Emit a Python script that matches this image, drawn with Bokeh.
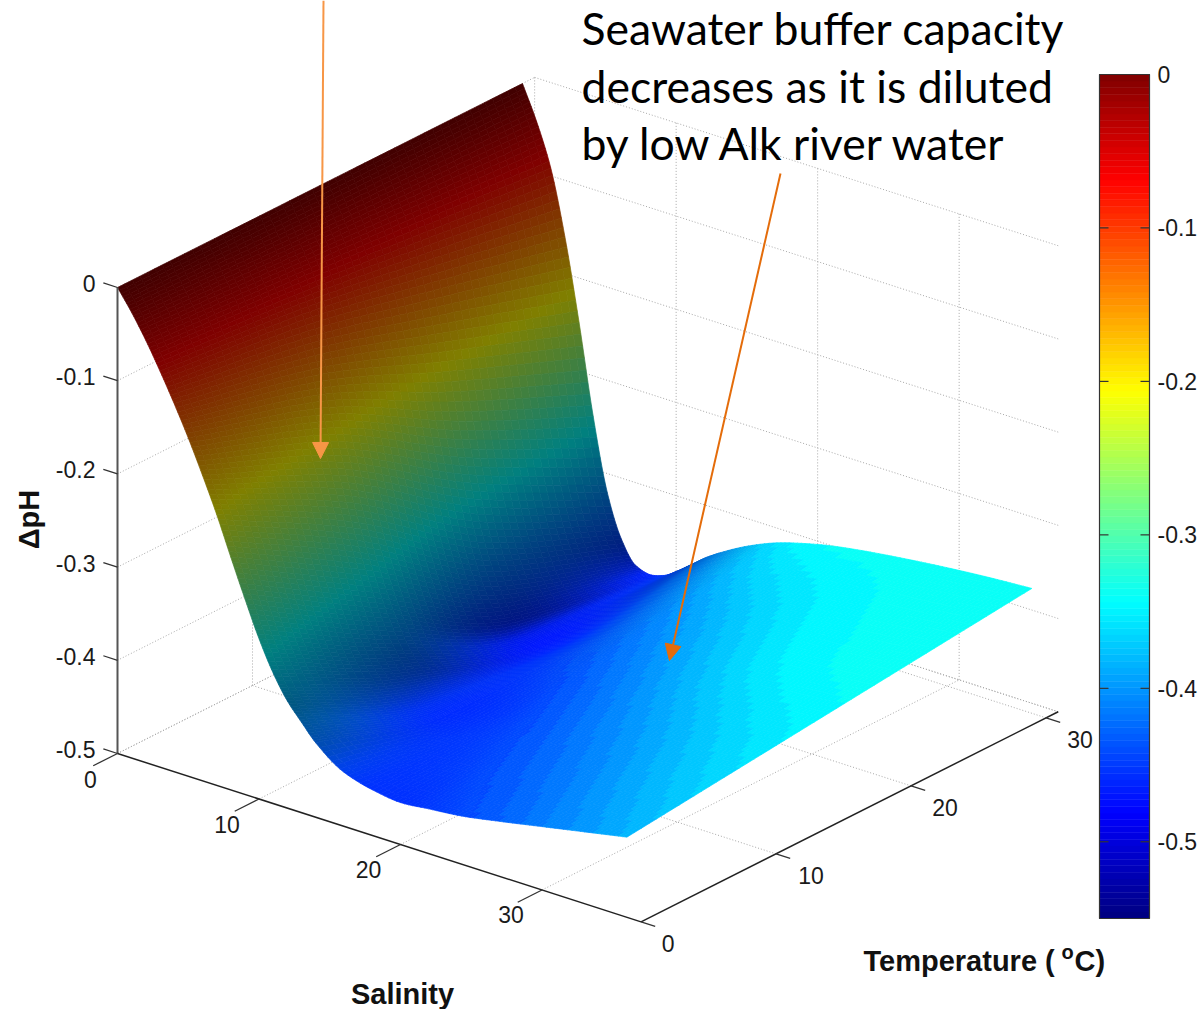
import numpy as np
from bokeh.plotting import figure
from bokeh.models import Range1d, ColumnDataSource, Arrow, NormalHead
from bokeh.core.properties import value
from bokeh.embed import file_html
from bokeh.resources import INLINE

# ---- data ----
salinity = [0, 1, 2, 3, 4, 5, 6, 7, 8, 9, 10, 11, 12, 13, 14, 16, 18, 20, 22, 24, 27, 30, 33, 36]
temperature = [0, 10, 20, 30]
dph_t0 = [0, -.022, -.047, -.075, -.105, -.137, -.172, -.209, -.250, -.290, -.328, -.360, -.385, -.403, -.420, -.442, -.451, -.455, -.452, -.449, -.441, -.432, -.423, -.414]
dph_t10 = [0, -.028, -.056, -.090, -.135, -.185, -.238, -.290, -.337, -.378, -.410, -.432, -.447, -.457, -.461, -.459, -.453, -.446, -.439, -.432, -.422, -.413, -.405, -.398]
dph_t20 = [0, -.032, -.067, -.118, -.185, -.265, -.335, -.392, -.432, -.458, -.471, -.474, -.472, -.466, -.459, -.444, -.431, -.420, -.411, -.404, -.396, -.389, -.385, -.382]
dph_t30 = [0, -.036, -.081, -.150, -.237, -.333, -.410, -.455, -.478, -.483, -.479, -.469, -.457, -.445, -.435, -.418, -.405, -.396, -.389, -.384, -.378, -.373, -.369, -.366]
# colour value of each grid node (the projection flattens the far side, the colours do not)
col_t0 = [0, -.022, -.047, -.075, -.105, -.137, -.172, -.209, -.250, -.290, -.328, -.360, -.385, -.403, -.420, -.445, -.455, -.456, -.451, -.444, -.430, -.414, -.399, -.385]
col_t10 = [0, -.028, -.056, -.090, -.135, -.185, -.238, -.290, -.337, -.378, -.410, -.432, -.447, -.455, -.458, -.454, -.447, -.437, -.426, -.414, -.398, -.382, -.368, -.356]
col_t20 = [0, -.032, -.067, -.118, -.185, -.265, -.335, -.392, -.432, -.458, -.466, -.468, -.462, -.450, -.440, -.425, -.413, -.400, -.387, -.375, -.358, -.347, -.342, -.340]
col_t30 = [0, -.036, -.081, -.150, -.237, -.333, -.405, -.445, -.460, -.462, -.450, -.438, -.425, -.410, -.400, -.377, -.360, -.347, -.342, -.340, -.340, -.340, -.340, -.340]

z_ticks = [0, -0.1, -0.2, -0.3, -0.4, -0.5]
z_labels = ["0", "-0.1", "-0.2", "-0.3", "-0.4", "-0.5"]
s_ticks = [0, 10, 20, 30]
t_ticks = [0, 10, 20, 30]
bar_ticks = [0, -0.1, -0.2, -0.3, -0.4, -0.5]
bar_min, bar_max = -0.55, 0.0
note_lines = ["Seawater buffer capacity", "decreases as it is diluted", "by low Alk river water"]

# ---- jet ----
def jet(f):
    r = np.clip(min(4 * f - 1.5, -4 * f + 4.5), 0, 1)
    g = np.clip(min(4 * f - 0.5, -4 * f + 3.5), 0, 1)
    b = np.clip(min(4 * f + 0.5, -4 * f + 2.5), 0, 1)
    return (r, g, b)

def hexcol(c, k=1.0):
    return "#%02x%02x%02x" % tuple(int(round(255 * v * k)) for v in c)

# ---- view of the box ----
S_END, T_END = 37.0, 30.9
def px(s, t, z):
    s, t, z = np.asarray(s, float), np.asarray(t, float), np.asarray(z, float)
    return 117 + 14.15 * s + 13.5 * t, 753 + 4.55 * s - 6.8 * t - (z + 0.5) * 932

p = figure(width=1201, height=1009, x_range=Range1d(0, 1201), y_range=Range1d(1009, 0),
           output_backend="svg", toolbar_location=None, min_border=0)
p.axis.visible = False
p.grid.visible = False
p.outline_line_color = None
p.background_fill_color = "white"

# ---- dotted grid ----
gx0, gy0, gx1, gy1 = [], [], [], []
def g(a, b):
    x0, y0 = px(*a); x1, y1 = px(*b)
    gx0.append(float(x0)); gy0.append(float(y0)); gx1.append(float(x1)); gy1.append(float(y1))
for z in z_ticks:
    g((0, 0, z), (0, T_END, z))
    g((0, T_END, z), (S_END, T_END, z))
for t in t_ticks[1:] + [T_END]:
    g((0, t, -0.5), (0, t, 0))
    g((0, t, -0.5), (S_END, t, -0.5))
for s in s_ticks[1:]:
    g((s, T_END, -0.5), (s, T_END, 0))
    g((s, 0, -0.5), (s, T_END, -0.5))
g((0, 0, -0.5), (0, T_END, -0.5))
p.segment(gx0, gy0, gx1, gy1, line_color="#a8a8a8", line_width=1, line_dash="1 2")

# ---- surface: the grid values are drawn as a smooth mesh ----
def smooth(xk, yk, xq):
    """monotone cubic curve through the knots"""
    xk, yk = np.asarray(xk, float), np.asarray(yk, float)
    h = np.diff(xk); d = np.diff(yk) / h
    m = np.zeros_like(yk)
    m[0], m[-1] = d[0], d[-1]
    for i in range(1, len(yk) - 1):
        if d[i - 1] * d[i] > 0:
            w1, w2 = 2 * h[i] + h[i - 1], h[i] + 2 * h[i - 1]
            m[i] = (w1 + w2) / (w1 / d[i - 1] + w2 / d[i])
    i = np.clip(np.searchsorted(xk, xq, side="right") - 1, 0, len(h) - 1)
    t = (xq - xk[i]) / h[i]
    return ((2*t**3 - 3*t**2 + 1) * yk[i] + (t**3 - 2*t**2 + t) * h[i] * m[i]
            + (-2*t**3 + 3*t**2) * yk[i + 1] + (t**3 - t**2) * h[i] * m[i + 1])

S = np.array(salinity, float)
T = np.array(temperature, float)
Z = np.array([dph_t0, dph_t10, dph_t20, dph_t30])
C = np.array([col_t0, col_t10, col_t20, col_t30])
slope = np.abs(np.gradient(Z, S, axis=1))
SH = np.clip(1 - (slope - 0.006) / 0.014 * 0.5, 0.5, 1.0)

SUB_T = 18
sq = np.concatenate([np.linspace(S[i], S[i + 1], 8 if S[i] < 14 else int(round((S[i + 1] - S[i]) / 0.3)), endpoint=False)
                     for i in range(len(S) - 1)] + [[S[-1]]])
tq = np.linspace(T[0], T[-1], (len(T) - 1) * SUB_T + 1)
def sample(M):
    a = np.array([smooth(S, row, sq) for row in M])
    return np.array([smooth(T, a[:, j], tq) for j in range(a.shape[1])]).T
Sm, Tm = np.meshgrid(sq, tq)
Zm, Cm, Shm = sample(Z), sample(C), sample(SH)
X, Y = px(Sm, Tm, Zm)

xs, ys, cols = [], [], []
for j in range(X.shape[0] - 2, -1, -1):       # far temperature first
    for i in range(X.shape[1] - 1):           # low salinity first
        xs.append([X[j, i], X[j, i + 1], X[j + 1, i + 1], X[j + 1, i]])
        ys.append([Y[j, i], Y[j, i + 1], Y[j + 1, i + 1], Y[j + 1, i]])
        c = Cm[j:j + 2, i:i + 2].mean()
        k = float(np.clip(Shm[j:j + 2, i:i + 2].mean(), 0.5, 1))
        f = float(np.clip((c - bar_min) / (bar_max - bar_min), 0, 1))
        if k > 0.97 and f > 0.2:             # the flat, lighter part shows the 64 colour steps
            f = (min(int(f * 64), 63) + 0.5) / 64
        cols.append(hexcol(jet(f), k))
src = ColumnDataSource(dict(xs=xs, ys=ys, c=cols))
p.patches("xs", "ys", source=src, fill_color="c", line_color="c", line_width=0.7)

# ---- axes ----
def axis_line(a, b, col, w=1.5):
    x0, y0 = px(*a); x1, y1 = px(*b)
    p.line([float(x0), float(x1)], [float(y0), float(y1)], line_color=col, line_width=w)
axis_line((0, 0, -0.5), (0, 0, 0), "#555555", 2)
axis_line((0, 0, -0.5), (S_END, 0, -0.5), "#222222", 1.5)
axis_line((S_END, 0, -0.5), (S_END, T_END, -0.5), "#222222", 1.5)
for z in z_ticks:
    axis_line((0, 0, z), (-1, 0, z), "#333333", 1.3)
for s in s_ticks:
    axis_line((s, 0, -0.5), (s, -1.8, -0.5), "#333333", 1.3)
for t in t_ticks:
    axis_line((S_END, t, -0.5), (S_END + 1, t, -0.5), "#333333", 1.3)

HELV = value("Liberation Sans")
def label(x, y, txt, size=23, align="center", bold=False, angle=0.0, font=HELV, base="middle", col="#1a1a1a"):
    p.text([x], [y], text=[txt], text_font=font, text_font_size=f"{size}px", text_align=align,
           text_baseline=base, text_color=col, angle=angle,
           text_font_style="bold" if bold else "normal")

for z, lab in zip(z_ticks, z_labels):
    _, yy = px(0, 0, z)
    label(95, float(yy) - 4, lab, align="right")
for s, off in zip(s_ticks, [(-27, 26), (-32, 25), (-32, 25), (-31, 24)]):
    xx, yy = px(s, 0, -0.5)
    label(float(xx) + off[0], float(yy) + off[1], str(s))
for t, off in zip(t_ticks, [(27, 22), (35, 22), (34, 22), (34, 22)]):
    xx, yy = px(S_END, t, -0.5)
    label(float(xx) + off[0], float(yy) + off[1], str(t))

label(402, 993, "Salinity", size=29, bold=True, col="#111111")
label(28, 519, "\u0394pH", size=29, bold=True, angle=np.pi / 2, col="#111111")
label(863, 960, "Temperature (", size=29, align="left", bold=True, col="#111111")
label(1061, 951, "o", size=20, align="left", bold=True, col="#111111")
label(1074, 960, "C)", size=29, align="left", bold=True, col="#111111")

# ---- colour bar ----
BAR_L, BAR_R, BAR_T, BAR_B = 1099, 1149, 74, 918
def bar_y(v):
    return BAR_T + (bar_max - v) / (bar_max - bar_min) * (BAR_B - BAR_T)
edges = np.linspace(bar_min, bar_max, 129)
bar_cols = [hexcol(jet((i + 0.5) / 128)) for i in range(128)]
p.quad(left=BAR_L, right=BAR_R, bottom=[bar_y(v) for v in edges[:-1]], top=[bar_y(v) for v in edges[1:]],
       fill_color=bar_cols, line_color=bar_cols, line_width=0.5)
p.quad(left=[BAR_L], right=[BAR_R], top=[BAR_T], bottom=[BAR_B], fill_color=None, line_color="#333333", line_width=1.2)
for v, lab in zip(bar_ticks, z_labels):
    yy = bar_y(v)
    p.segment([BAR_L, BAR_R - 9], [yy, yy], [BAR_L + 9, BAR_R], [yy, yy], line_color="#333333", line_width=1.2)
    label(1157, yy, lab, align="left")

# ---- annotations ----
LATO = value("Lato")
for line, base in zip(note_lines, [27, 84.5, 142]):
    label(581, base, line, size=44.5, align="left", font=LATO, base="alphabetic", col="#000000")

a1 = "#f79646"
a2 = "#e46c0a"
p.add_layout(Arrow(end=NormalHead(size=16, fill_color=a1, line_color=a1, line_width=1),
                   x_start=323, y_start=0, x_end=320, y_end=458, line_color=a1, line_width=2))
p.add_layout(Arrow(end=NormalHead(size=16, fill_color=a2, line_color=a2, line_width=1),
                   x_start=780, y_start=173, x_end=669, y_end=660, line_color=a2, line_width=2))

open("out.html", "w").write(file_html(p, INLINE))
